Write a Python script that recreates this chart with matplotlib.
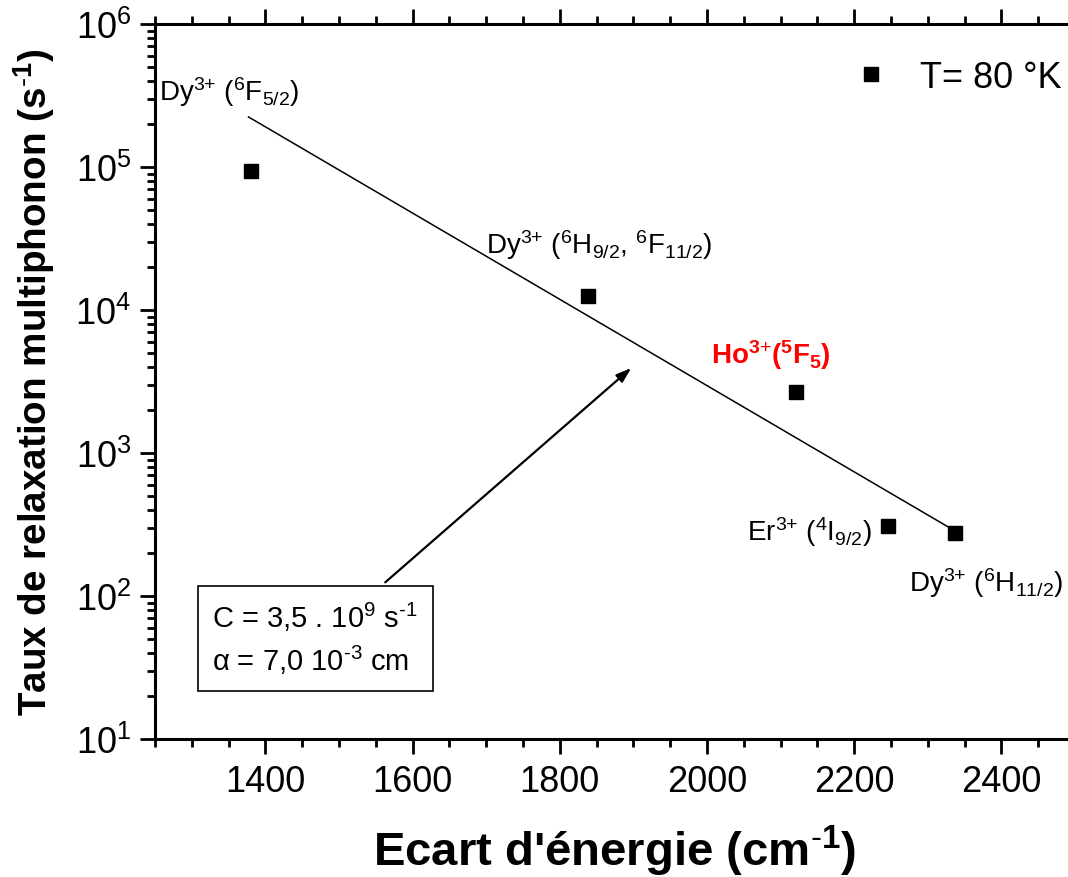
#!/usr/bin/env python3
"""Multiphonon relaxation rate vs energy gap (T = 80 K)."""

import matplotlib
matplotlib.use("Agg")
import matplotlib.pyplot as plt
from matplotlib.ticker import LogLocator, MultipleLocator, NullFormatter

plt.rcParams["font.family"] = ["Liberation Sans", "DejaVu Sans"]
plt.rcParams["mathtext.fontset"] = "custom"
plt.rcParams["mathtext.rm"] = "Liberation Sans"
plt.rcParams["mathtext.bf"] = "Liberation Sans:bold"
plt.rcParams["mathtext.default"] = "regular"

# measured points (energy gap in cm-1, rate in s-1)
gap = [1380, 1838, 2121, 2246, 2337]
rate = [9.4e4, 1.25e4, 2.67e3, 3.1e2, 2.75e2]

# fitted law W = C exp(-alpha dE), end points
fit_x = [1377, 2337]
fit_y = [2.24e5, 2.85e2]

arrow_tail = (1560, 121)
arrow_head = (1900, 4.05e3)

P = r"{\text{+}}"
M = r"{\text{-}}"
labels = [
    (rf"Dy$^{{3{P}}}$ ($^{{6}}$F$_{{5/2}}$)", 1255, 3.4e5, "black", "normal"),
    (rf"Dy$^{{3{P}}}$ ($^{{6}}$H$_{{9/2}}$, $^{{6}}$F$_{{11/2}}$)", 1700, 2.9e4, "black", "normal"),
    (rf"Ho$^{{3{P}}}$($^{{5}}$F$_{{5}}$)", 2006, 4.9e3, "red", "bold"),
    (rf"Er$^{{3{P}}}$ ($^{{4}}$I$_{{9/2}}$)", 2055, 2.85e2, "black", "normal"),
    (rf"Dy$^{{3{P}}}$ ($^{{6}}$H$_{{11/2}}$)", 2274, 1.25e2, "black", "normal"),
]

fig = plt.figure(figsize=(10.68, 8.78), dpi=100)
ax = fig.add_axes([155 / 1068, 138 / 878, 920 / 1068, 715 / 878])

ax.plot(gap, rate, "s", color="black", markersize=9.5, label="T= 80 °K")
ax.plot(fit_x, fit_y, color="black", linewidth=1.1)

ax.annotate("", xy=arrow_head, xytext=arrow_tail,
            arrowprops=dict(arrowstyle="-|>,head_length=0.9,head_width=0.3",
                            color="black", lw=1.6))

for txt, x, y, col, w in labels:
    ax.text(x, y, txt, fontsize=20, color=col, fontweight=w, va="center")

ax.text(1328, 2.75e1,
        rf"C = 3,5 . 10$^{{9}}$ s$^{{{M}1}}$" + "\n" + rf"$\alpha$ = 7,0 10$^{{{M}3}}$ cm",
        fontsize=21, linespacing=1.35, va="bottom",
        bbox=dict(boxstyle="square,pad=0.5", fc="white", ec="black", lw=1.2))

ax.set_yscale("log")
ax.set_xlim(1250, 2500)
ax.set_ylim(1e1, 1e6)

ax.xaxis.set_major_locator(MultipleLocator(200))
ax.xaxis.set_minor_locator(MultipleLocator(50))
ax.yaxis.set_major_locator(LogLocator(base=10, numticks=10))
ax.yaxis.set_minor_locator(LogLocator(base=10, subs=range(2, 10), numticks=20))
ax.yaxis.set_minor_formatter(NullFormatter())

ax.tick_params(which="both", top=True, right=True, width=2, labelsize=26)
ax.tick_params(which="major", length=11)
ax.tick_params(which="minor", length=6)
ax.tick_params(axis="x", which="both", top=True, direction="out")
ax.tick_params(axis="y", which="both", direction="out")
for t in ax.xaxis.get_major_ticks() + ax.xaxis.get_minor_ticks():
    t.tick2line.set_marker(3)
for t in ax.yaxis.get_major_ticks() + ax.yaxis.get_minor_ticks():
    t.tick2line.set_marker(0)
ax.tick_params(axis="x", which="both", pad=7)
ax.tick_params(axis="y", which="both", pad=6)
for s in ax.spines.values():
    s.set_linewidth(2.2)

ax.set_xlabel(rf"Ecart d'énergie (cm$^{{{M}1}}$)", fontsize=34, fontweight="bold", labelpad=17)
ax.set_ylabel(rf"Taux de relaxation multiphonon (s$^{{{M}1}}$)", fontsize=27.8,
              fontweight="bold", labelpad=13)

ax.legend(loc="upper right", bbox_to_anchor=(1.013, 0.985), frameon=False,
          fontsize=26, handletextpad=0.6, handlelength=1.5, borderaxespad=0.3)

fig.savefig("out.png", dpi=100, facecolor="white")
